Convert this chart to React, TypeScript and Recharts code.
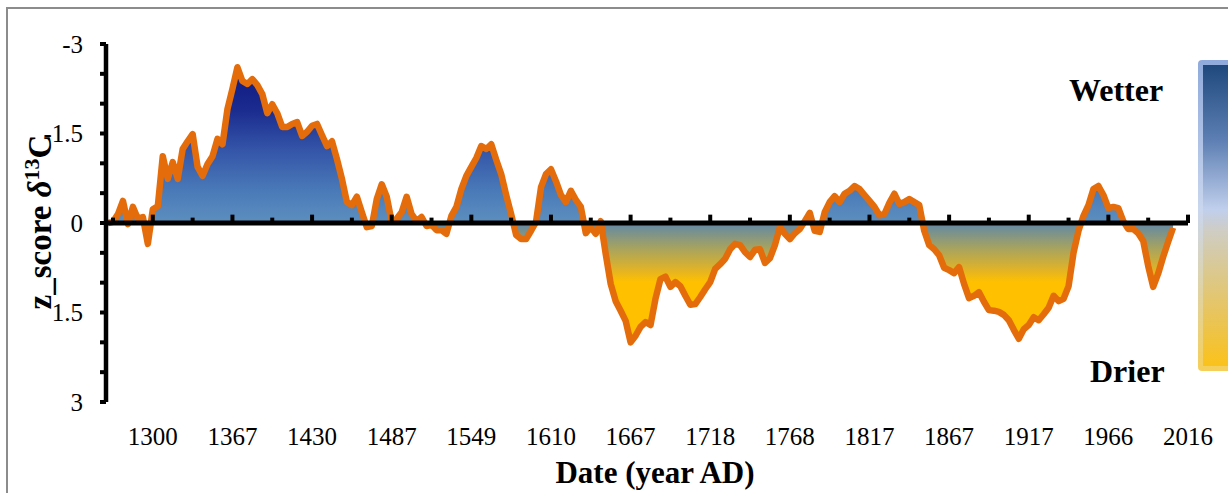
import { ComposedChart, Area, Line, XAxis, YAxis, ReferenceLine } from 'recharts';

// z-score of d13C, one value every 1/8 of a tick step
const zValues = [
  0, -0.02, -0.15, -0.37, 0.02, -0.27, -0.07, -0.1, 0.35, -0.23,
  -0.28, -1.12, -0.74, -1.02, -0.74, -1.24, -1.37, -1.49, -0.94, -0.79,
  -0.99, -1.12, -1.41, -1.32, -1.91, -2.25, -2.61, -2.38, -2.33, -2.41,
  -2.31, -2.16, -1.84, -1.99, -1.84, -1.61, -1.61, -1.66, -1.69, -1.46,
  -1.53, -1.63, -1.66, -1.47, -1.29, -1.37, -1.07, -0.74, -0.35, -0.3,
  -0.44, -0.18, 0.07, 0.05, -0.4, -0.65, -0.44, -0.02, -0.07, -0.18,
  -0.44, -0.15, -0.03, -0.1, 0.05, 0.03, 0.12, 0.12, 0.18, -0.12,
  -0.27, -0.57, -0.79, -0.94, -1.09, -1.29, -1.24, -1.32, -1.06, -0.82,
  -0.47, -0.15, 0.2, 0.27, 0.27, 0.13, -0.02, -0.6, -0.82, -0.9,
  -0.7, -0.47, -0.35, -0.54, -0.39, -0.27, 0.17, 0.07, 0.18, -0.03,
  0.52, 1.02, 1.31, 1.47, 1.64, 2.0, 1.89, 1.74, 1.66, 1.71,
  1.27, 0.94, 0.9, 1.07, 0.99, 1.06, 1.22, 1.37, 1.36, 1.24,
  1.11, 0.99, 0.77, 0.69, 0.6, 0.44, 0.35, 0.37, 0.49, 0.57,
  0.45, 0.44, 0.67, 0.59, 0.37, 0.07, 0.18, 0.27, 0.17, 0.1,
  -0.03, -0.17, 0.13, 0.15, -0.18, -0.35, -0.45, -0.35, -0.49, -0.54,
  -0.62, -0.57, -0.47, -0.37, -0.27, -0.13, -0.15, -0.34, -0.49, -0.32,
  -0.35, -0.4, -0.35, -0.3, 0.13, 0.37, 0.44, 0.54, 0.75, 0.79,
  0.84, 0.74, 1.02, 1.26, 1.22, 1.16, 1.32, 1.46, 1.47, 1.49,
  1.54, 1.63, 1.79, 1.94, 1.78, 1.71, 1.58, 1.63, 1.53, 1.42,
  1.22, 1.31, 1.27, 1.06, 0.5, 0.13, -0.12, -0.3, -0.57, -0.62,
  -0.47, -0.25, -0.27, -0.25, -0.03, 0.1, 0.1, 0.17, 0.3, 0.72,
  1.07, 0.85, 0.57, 0.32, 0.08,
];

const yearLabels = ['1300', '1367', '1430', '1487', '1549', '1610', '1667', '1718', '1768', '1817', '1867', '1917', '1966', '2016'];
const yTicks = [-3, -2.5, -2, -1.5, -1, -0.5, 0, 0.5, 1, 1.5, 2, 2.5, 3];

// x position in tick steps; first sample just right of the y axis
const U0 = -0.125;
const data = zValues.map((z, i) => ({ u: U0 + i / 8, z }));
const labelTicks = yearLabels.map((_, k) => 1 + 2 * k);
const tickMarks = Array.from({ length: 28 }, (_, k) => k);

const serif = '"Liberation Serif", "Times New Roman", serif';

export default function App() {
  return (
    <div style={{ position: 'fixed', left: 0, top: 0, width: 1228, height: 493, overflow: 'hidden', background: '#fff' }}>
      <div style={{ position: 'absolute', left: 6, top: 7, width: 1400, height: 700, borderTop: '2px solid #8c8c8c', borderLeft: '2px solid #8c8c8c' }} />
      <div style={{ position: 'absolute', left: 0, top: 0 }}>
        <ComposedChart width={1228} height={493} data={data} margin={{ top: 44, right: 40, bottom: 31, left: 0 }}>
          <defs>
            <linearGradient id="zFill" x1="0" y1="0" x2="0" y2="1">
              <stop offset="0" stopColor="#0f1a82" />
              <stop offset="0.15" stopColor="#1a2a8e" />
              <stop offset="0.3" stopColor="#3455a8" />
              <stop offset="0.45" stopColor="#4a7ab8" />
              <stop offset="0.55" stopColor="#5b8cbe" />
              <stop offset="0.58" stopColor="#6b8c9c" />
              <stop offset="0.66" stopColor="#a8a45e" />
              <stop offset="0.73" stopColor="#dcb22c" />
              <stop offset="0.78" stopColor="#ffc000" />
              <stop offset="1" stopColor="#ffc000" />
            </linearGradient>
          </defs>
          <XAxis
            type="number"
            dataKey="u"
            domain={[-0.176, 27]}
            ticks={labelTicks}
            interval={0}
            tickFormatter={(v: number) => yearLabels[(v - 1) / 2] ?? ''}
            axisLine={false}
            tickLine={false}
            tickSize={0}
            tickMargin={25}
            height={60}
            tick={{ fill: '#000', fontSize: 25, fontFamily: serif }}
          />
          <YAxis
            type="number"
            domain={[-3, 3]}
            reversed
            ticks={yTicks}
            interval={0}
            width={106}
            tickFormatter={(v: number) => (v % 1.5 === 0 ? String(v) : '')}
            axisLine={{ stroke: '#000', strokeWidth: 4.5 }}
            tickLine={{ stroke: '#000', strokeWidth: 4 }}
            tickSize={6}
            tickMargin={17}
            tick={{ fill: '#000', fontSize: 25, fontFamily: serif }}
          />
          <Area type="linear" dataKey="z" baseValue={0} stroke="none" fill="url(#zFill)" fillOpacity={1} isAnimationActive={false} />
          <Line type="linear" dataKey="z" stroke="#e46c0a" strokeWidth={6.5} strokeLinejoin="round" dot={false} isAnimationActive={false} />
          <ReferenceLine y={0} stroke="#000" strokeWidth={5} />
          {tickMarks.map((k) => (
            <ReferenceLine
              key={k}
              segment={[{ x: k, y: 0 }, { x: k, y: k % 2 === 1 ? -0.14 : -0.09 }]}
              stroke="#000"
              strokeWidth={4}
            />
          ))}
        </ComposedChart>
      </div>
      <svg width={1228} height={493} style={{ position: 'absolute', left: 0, top: 0, pointerEvents: 'none' }}>
        <defs>
          <linearGradient id="barEdge" x1="0" y1="0" x2="0" y2="1">
            <stop offset="0" stopColor="#8faadc" />
            <stop offset="0.48" stopColor="#c9d6ee" />
            <stop offset="1" stopColor="#f6cf5a" />
          </linearGradient>
          <linearGradient id="barFill" x1="0" y1="0" x2="0" y2="1">
            <stop offset="0" stopColor="#1f497d" />
            <stop offset="0.25" stopColor="#5d7fb3" />
            <stop offset="0.48" stopColor="#c0cfec" />
            <stop offset="0.55" stopColor="#cfcdc4" />
            <stop offset="0.7" stopColor="#dcc88a" />
            <stop offset="0.85" stopColor="#eac454" />
            <stop offset="1" stopColor="#fbc21a" />
          </linearGradient>
        </defs>
        <rect x={1198} y={60} width={60} height={311} rx={4} fill="url(#barEdge)" />
        <rect x={1203} y={65} width={60} height={301} fill="url(#barFill)" />
        <text x={1069} y={101} fontFamily={serif} fontWeight="bold" fontSize={32} fill="#000">Wetter</text>
        <text x={1090} y={382} fontFamily={serif} fontWeight="bold" fontSize={32} fill="#000">Drier</text>
        <text x={655} y={483} textAnchor="middle" fontFamily={serif} fontWeight="bold" fontSize={31} fill="#000">Date (year AD)</text>
        <text transform="translate(51,222) rotate(-90)" textAnchor="middle" fontFamily={serif} fontWeight="bold" fontSize={33} fill="#000">
          z_score <tspan fontStyle="italic">δ</tspan>
          <tspan dy={-12} fontSize={22}>13</tspan>
          <tspan dy={12}>C</tspan>
        </text>
      </svg>
    </div>
  );
}
